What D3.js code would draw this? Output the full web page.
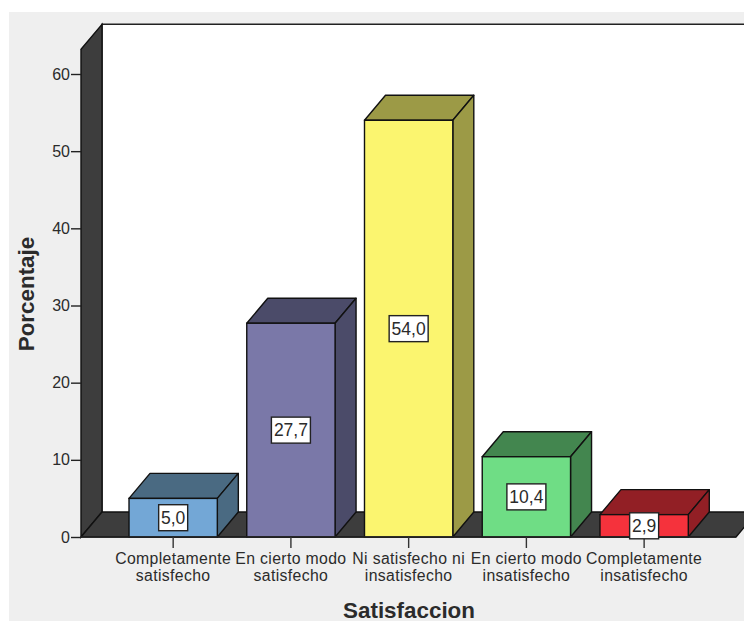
<!DOCTYPE html>
<html>
<head>
<meta charset="utf-8">
<script src="https://cdn.jsdelivr.net/npm/d3@7/dist/d3.min.js"></script>
<style>
html,body{margin:0;padding:0;background:#fff;}
svg{display:block;}
text{font-family:"Liberation Sans",Arial,sans-serif;fill:#2b2b2b;}
</style>
</head>
<body>
<svg id="chart" width="744" height="621"></svg>
<script>
// Satisfaction survey results, percent per answer
const categories = [
  ["Completamente","satisfecho"],
  ["En cierto modo","satisfecho"],
  ["Ni satisfecho ni","insatisfecho"],
  ["En cierto modo","insatisfecho"],
  ["Completamente","insatisfecho"]
];
const percentages = [5.0, 27.7, 54.0, 10.4, 2.9];
const frontColors = ["#73a7d6","#7a78a8","#fbf56f","#6fdd85","#f5323c"];
const sideColors  = ["#4a6a82","#4b4b69","#9c9a46","#43864f","#921f25"];
const yTicks = [0,10,20,30,40,50,60];
const yTop = 63.2;

const svg = d3.select("#chart");
const W = 744, H = 621;
const depthX = 21, depthY = -25;       // oblique offset of the 3D depth
const wallColor = "#3d3d3d", edge = "#111";
const edgeWidth = 1.4;

const y = d3.scaleLinear().domain([0,60]).range([537,74]);
const x = d3.scaleBand().domain(d3.range(categories.length))
  .range([114.3,703]).paddingInner(0.25).paddingOuter(0.125);

const pts = a => a.map(p => p.join(",")).join(" ");

// panel background
svg.append("rect").attr("x",9).attr("y",12).attr("width",W-9).attr("height",H-12).attr("fill","#efefef");

const wallLeft = 81, base = y(0), wallTop = y(yTop);

// back wall, open on the right
svg.append("rect").attr("x",wallLeft+depthX).attr("y",wallTop+depthY)
  .attr("width",W-wallLeft-depthX+2).attr("height",base-wallTop).attr("fill","#fff");
svg.append("path").attr("fill","none").attr("stroke","#222").attr("stroke-width",1.5)
  .attr("d",`M${W},${wallTop+depthY}H${wallLeft+depthX}V${base+depthY}`);

// side wall
svg.append("polygon").attr("fill",wallColor).attr("stroke",edge).attr("stroke-width",edgeWidth)
  .attr("points",pts([[wallLeft,base],[wallLeft,wallTop],[wallLeft+depthX,wallTop+depthY],[wallLeft+depthX,base+depthY]]));

// floor, running off the right edge
svg.append("polygon").attr("fill",wallColor).attr("stroke",edge).attr("stroke-width",edgeWidth)
  .attr("points",pts([[wallLeft,base],[wallLeft+depthX,base+depthY],[736+depthX,base+depthY],[736,base]]));

// y axis ticks and labels
const axisG = svg.append("g").attr("transform",`translate(${wallLeft},0)`)
  .call(d3.axisLeft(y).tickValues(yTicks).tickSize(10).tickPadding(0).tickFormat(d3.format("d")));
axisG.select(".domain").remove();
axisG.selectAll(".tick line").attr("stroke","#222").attr("stroke-width",1.4);
axisG.selectAll(".tick text").attr("font-size",16).attr("font-family","Liberation Sans").attr("fill","#333").attr("x",-11);

// bars
const bars = svg.append("g").selectAll("g").data(percentages).join("g");
bars.each(function(v,i){
  const g = d3.select(this);
  const x0 = x(i), x1 = x0 + x.bandwidth(), yv = y(v);
  g.append("polygon").attr("fill",sideColors[i]).attr("stroke",edge).attr("stroke-width",edgeWidth)
    .attr("stroke-linejoin","round")
    .attr("points",pts([[x0,yv],[x0+depthX,yv+depthY],[x1+depthX,yv+depthY],[x1,yv]]));
  g.append("polygon").attr("fill",sideColors[i]).attr("stroke",edge).attr("stroke-width",edgeWidth)
    .attr("stroke-linejoin","round")
    .attr("points",pts([[x1,yv],[x1+depthX,yv+depthY],[x1+depthX,base+depthY],[x1,base]]));
  g.append("rect").attr("x",x0).attr("y",yv).attr("width",x.bandwidth()).attr("height",base-yv)
    .attr("fill",frontColors[i]).attr("stroke",edge).attr("stroke-width",edgeWidth);
});

// baseline under the panel front
svg.append("line").attr("x1",wallLeft).attr("x2",736).attr("y1",base).attr("y2",base)
  .attr("stroke","#222").attr("stroke-width",1.4);

// category ticks and two-line labels
const cats = svg.append("g").selectAll("g").data(categories).join("g")
  .attr("transform",(d,i)=>`translate(${x(i)+x.bandwidth()/2},${base})`);
cats.append("line").attr("y1",0).attr("y2",11).attr("stroke","#333").attr("stroke-width",1.4);
cats.append("text").attr("text-anchor","middle").attr("font-size",15.8).attr("letter-spacing",0.35).attr("fill","#333")
  .selectAll("tspan").data(d=>d).join("tspan")
  .attr("x",0).attr("y",(d,i)=>26.5+i*17.5).text(d=>d);

// value labels, centred halfway up each bar
const fmt = v => d3.format(".1f")(v).replace(".",",");
const labels = svg.append("g").selectAll("g").data(percentages).join("g")
  .attr("transform",(v,i)=>`translate(${x(i)+x.bandwidth()/2},${y(v/2)})`);
labels.append("rect")
  .attr("x",v=>v>=10?-19.5:-14.5).attr("width",v=>v>=10?39:29)
  .attr("y",-13).attr("height",26)
  .attr("fill","#fff").attr("stroke","#222").attr("stroke-width",1.4);
labels.append("text").attr("text-anchor","middle").attr("y",6)
  .attr("font-size",17.5).attr("fill","#222").text(fmt);

// axis titles
svg.append("text").attr("x",409).attr("y",617.5).attr("text-anchor","middle")
  .attr("font-size",22.4).attr("font-weight","bold").attr("fill","#222")
  .text("Satisfaccion");
svg.append("text").attr("transform","translate(34,294) rotate(-90)").attr("text-anchor","middle")
  .attr("font-size",22.4).attr("font-weight","bold").attr("fill","#222")
  .text("Porcentaje");
</script>
</body>
</html>
